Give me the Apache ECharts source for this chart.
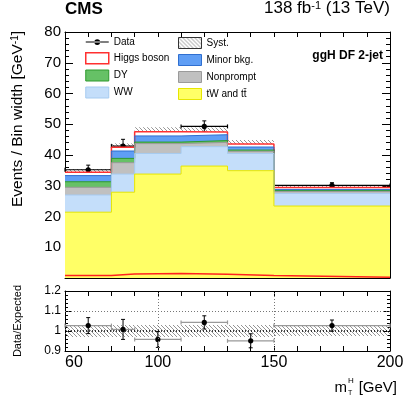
<!DOCTYPE html>
<html>
<head>
<meta charset="utf-8">
<script src="https://cdn.jsdelivr.net/npm/echarts@6/dist/echarts.min.js"></script>
<style>
html, body { margin: 0; padding: 0; background: #fff; }
#main { width: 407px; height: 395px; }
</style>
</head>
<body>
<div id="main"></div>
<script>
// bins in m_T^H [GeV]
var binLo = [60, 80, 90, 110, 130, 150];
var binHi = [80, 90, 110, 130, 150, 200];
var binMid = [70, 85, 100, 120, 140, 175];

// stacked expectation, events / GeV (bottom to top)
var ttbar = [21.4, 27.9, 33.8, 36.4, 34.9, 23.4];
var ww = [5.6, 5.9, 6.7, 6.3, 5.6, 4.1];
var nonprompt = [2.5, 3.7, 3.2, 1.4, 0.7, 0.6];
var dy = [1.8, 1.4, 0.5, 0.6, 0.4, 0.3];
var minorBkg = [2.0, 2.4, 2.0, 1.9, 1.0, 0.4];
var higgs = [1.1, 1.2, 1.4, 0.9, 1.0, 0.6];
// unstacked signal line at the bottom
var higgsAlone = [0.8, 1.3, 1.5, 1.2, 0.8, 0.25];
// relative syst. uncertainty
var systFrac = [0.03, 0.03, 0.03, 0.03, 0.03, 0.025];

var dataY = [35.2, 42.9, 45.6, 49.3, 41.3, 30.1];
var dataErr = [1.5, 2.2, 2.0, 1.8, 1.5, 0.9];
var ratioY = [1.027, 1.008, 0.958, 1.043, 0.951, 1.027];
var ratioErr = [0.04, 0.05, 0.04, 0.033, 0.035, 0.028];

var xTickLabels = [60, 100, 150, 200];

var FONT = 'Liberation Sans, Arial, Helvetica, sans-serif';

// hatch pattern for syst. band
var hc = document.createElement('canvas');
hc.width = 4; hc.height = 4;
var g = hc.getContext('2d');
g.strokeStyle = '#7a7a7a';
g.lineWidth = 0.8;
g.beginPath();
g.moveTo(-1, -1); g.lineTo(5, 5);
g.moveTo(-1, 3); g.lineTo(1, 5);
g.moveTo(3, -1); g.lineTo(5, 1);
g.stroke();
var hatch = { image: hc, repeat: 'repeat' };

// cumulative stack
var layers = [ttbar, ww, nonprompt, dy, minorBkg, higgs];
var cum = [];
var run = [0, 0, 0, 0, 0, 0];
for (var k = 0; k < layers.length; k++) {
	run = run.map(function (v, i) { return v + layers[k][i]; });
	cum.push(run.slice());
}
var total = cum[cum.length - 1];

function stepData(vals) {
	var d = [];
	for (var i = 0; i < vals.length; i++) d.push([binLo[i], vals[i]]);
	d.push([binHi[vals.length - 1], vals[vals.length - 1]]);
	return d;
}

function histLayer(name, vals, fill, edge, w) {
	return {
		name: name, type: 'line', step: 'end', symbol: 'none',
		xAxisIndex: 0, yAxisIndex: 0,
		data: stepData(vals),
		lineStyle: { color: edge, width: w || 1 },
		areaStyle: { color: fill, opacity: 1 },
		animation: false, silent: true
	};
}

var mainBand = binLo.map(function (lo, i) {
	return [lo, binHi[i], total[i] * (1 - systFrac[i]), total[i] * (1 + systFrac[i])];
});
var ratioBand = binLo.map(function (lo, i) {
	return [lo, binHi[i], 1 - systFrac[i], 1 + systFrac[i]];
});
var mainPts = binMid.map(function (m, i) { return [m, dataY[i], dataErr[i], binLo[i], binHi[i]]; });
var ratioPts = binMid.map(function (m, i) { return [m, ratioY[i], ratioErr[i], binLo[i], binHi[i]]; });

function bandItem(params, api) {
	var a = api.coord([api.value(0), api.value(3)]);
	var b = api.coord([api.value(1), api.value(2)]);
	return {
		type: 'rect',
		shape: { x: a[0], y: a[1], width: b[0] - a[0], height: b[1] - a[1] },
		style: { fill: hatch }
	};
}

function pointItem(hColor) {
	return function (params, api) {
		var x = api.value(0), y = api.value(1), e = api.value(2);
		var c = api.coord([x, y]);
		var lo = api.coord([api.value(3), y]);
		var hi = api.coord([api.value(4), y]);
		var top = api.coord([x, y + e]);
		var bot = api.coord([x, y - e]);
		var blk = { stroke: '#000', lineWidth: 1 };
		var hs = { stroke: hColor, lineWidth: 1.2 };
		return {
			type: 'group',
			children: [
				{ type: 'line', shape: { x1: lo[0], y1: c[1], x2: hi[0], y2: c[1] }, style: hs },
				{ type: 'line', shape: { x1: lo[0], y1: c[1] - 2, x2: lo[0], y2: c[1] + 2 }, style: hs },
				{ type: 'line', shape: { x1: hi[0], y1: c[1] - 2, x2: hi[0], y2: c[1] + 2 }, style: hs },
				{ type: 'line', shape: { x1: c[0], y1: top[1], x2: c[0], y2: bot[1] }, style: blk },
				{ type: 'line', shape: { x1: c[0] - 2, y1: top[1], x2: c[0] + 2, y2: top[1] }, style: blk },
				{ type: 'line', shape: { x1: c[0] - 2, y1: bot[1], x2: c[0] + 2, y2: bot[1] }, style: blk },
				{ type: 'circle', shape: { cx: c[0], cy: c[1], r: 2.6 }, style: { fill: '#000' } }
			]
		};
	};
}

function xAx(grid, pos, labels) {
	return {
		type: 'value', gridIndex: grid, position: pos, min: 60, max: 200, interval: 10,
		axisLine: { show: true, onZero: false, lineStyle: { color: '#000', width: 1 } },
		axisTick: { show: true, inside: true, length: 5, lineStyle: { color: '#000' } },
		splitLine: { show: false },
		axisLabel: labels ? {
			show: true, color: '#000', fontSize: 16, fontFamily: FONT, margin: 4,
			alignMinLabel: 'left',
			formatter: function (v) { return xTickLabels.indexOf(v) >= 0 ? String(v) : ''; }
		} : { show: false }
	};
}

function yAx(grid, pos, min, max, iv, labels, fs, tickLen) {
	return {
		type: 'value', gridIndex: grid, position: pos, min: min, max: max, interval: iv,
		axisLine: { show: true, onZero: false, lineStyle: { color: '#000', width: 1 } },
		axisTick: { show: true, inside: true, length: tickLen, lineStyle: { color: '#000' } },
		minorTick: { show: true, splitNumber: 5, length: tickLen / 2, lineStyle: { color: '#000' } },
		splitLine: { show: false },
		axisLabel: labels ? {
			show: true, color: '#000', fontSize: fs, fontFamily: FONT, margin: 4,
			formatter: function (v) {
				if (v === 0) return '';
				return String(parseFloat(v.toFixed(1)));
			}
		} : { show: false }
	};
}

var chart = echarts.init(document.getElementById('main'), null, { renderer: 'canvas' });

var dotted = function (col, w) { return { color: col, type: [1, 2], width: w }; };

var legendText = { fontSize: 10, color: '#000', fontFamily: FONT };

var option = {
	animation: false,
	textStyle: { fontFamily: FONT },
	grid: [
		{ left: 65, right: 17, top: 32, height: 246 },
		{ left: 65, right: 17, top: 291, height: 60 }
	],
	xAxis: [xAx(0, 'bottom', false), xAx(0, 'top', false), xAx(1, 'bottom', true), xAx(1, 'top', false)],
	yAxis: [
		yAx(0, 'left', 0, 80, 10, true, 15, 8),
		yAx(0, 'right', 0, 80, 10, false, 15, 8),
		yAx(1, 'left', 0.9, 1.2, 0.1, true, 12, 6),
		yAx(1, 'right', 0.9, 1.2, 0.1, false, 12, 6)
	],
	legend: [
		{
			left: 85, top: 37, padding: 0, orient: 'vertical', itemWidth: 23, itemHeight: 11, itemGap: 5,
			selectedMode: false, textStyle: legendText,
			data: [
				{ name: 'Data', icon: 'path://M0,5.5h24v1H0z M12,3a3,3 0 1,0 0.001,0z', itemStyle: { color: '#000' } },
				{ name: 'Higgs boson', icon: 'rect', itemStyle: { color: '#fff', borderColor: '#ff3030', borderWidth: 1.5 } },
				{ name: 'DY', icon: 'rect', itemStyle: { color: '#66c166', borderColor: '#2e9a2e', borderWidth: 1 } },
				{ name: 'WW', icon: 'rect', itemStyle: { color: '#c4defa', borderColor: '#a6cbf0', borderWidth: 1 } }
			]
		},
		{
			left: 178, top: 37, padding: 0, orient: 'vertical', itemWidth: 23, itemHeight: 11, itemGap: 5,
			selectedMode: false, textStyle: legendText,
			data: [
				{ name: 'Syst.', icon: 'rect', itemStyle: { color: hatch, borderColor: '#333', borderWidth: 1 } },
				{ name: 'Minor bkg.', icon: 'rect', itemStyle: { color: '#5f9ef5', borderColor: '#2f6fd0', borderWidth: 1 } },
				{ name: 'Nonprompt', icon: 'rect', itemStyle: { color: '#c0c0c0', borderColor: '#9a9a9a', borderWidth: 1 } },
				{ name: 'tW and t\u0074\u0304', icon: 'rect', itemStyle: { color: '#ffff66', borderColor: '#e6e600', borderWidth: 1 } }
			]
		}
	],
	graphic: [
		{ type: 'text', left: 65, top: 1, style: { text: 'CMS', font: 'bold 17px ' + FONT, fill: '#000' } },
		{
			type: 'text', right: 17, top: 0,
			style: {
				text: '138 fb{sup|-1} (13 TeV)', font: '17px ' + FONT, fill: '#000',
				rich: { sup: { fontSize: 11, verticalAlign: 'top', fontFamily: FONT } }
			}
		},
		{ type: 'text', right: 24, top: 50, style: { text: 'ggH DF 2-jet', font: 'bold 12px ' + FONT, fill: '#000' } },
		{
			type: 'text', x: 18, y: 31, rotation: Math.PI / 2,
			style: {
				text: 'Events / Bin width [GeV{sup|-1}]', font: '15.5px ' + FONT, fill: '#000',
				align: 'right', verticalAlign: 'middle', textAlign: 'right', textVerticalAlign: 'middle',
				rich: { sup: { fontSize: 10, verticalAlign: 'top', fontFamily: FONT } }
			}
		},
		{
			type: 'text', x: 18, y: 321, rotation: Math.PI / 2,
			style: {
				text: 'Data/Expected', font: '11px ' + FONT, fill: '#000',
				align: 'center', verticalAlign: 'middle', textAlign: 'center', textVerticalAlign: 'middle'
			}
		},
		{ type: 'text', x: 397, y: 388, style: { text: '[GeV]', font: '15px ' + FONT, fill: '#000', align: 'right', verticalAlign: 'middle', textAlign: 'right', textVerticalAlign: 'middle' } },
		{ type: 'text', x: 347, y: 388, style: { text: 'm', font: '15px ' + FONT, fill: '#000', align: 'right', verticalAlign: 'middle', textAlign: 'right', textVerticalAlign: 'middle' } },
		{ type: 'text', x: 348, y: 381, style: { text: 'H', font: '8px ' + FONT, fill: '#000', align: 'left', verticalAlign: 'middle', textAlign: 'left', textVerticalAlign: 'middle' } },
		{ type: 'text', x: 348, y: 393, style: { text: 'T', font: '7px ' + FONT, fill: '#000', align: 'left', verticalAlign: 'middle', textAlign: 'left', textVerticalAlign: 'middle' } }
	],
	series: [
		histLayer('Higgs boson', cum[5], '#ffffff', '#ff3030', 1.5),
		histLayer('Minor bkg.', cum[4], '#5f9ef5', '#2f6fd0'),
		histLayer('DY', cum[3], '#66c166', '#2e9a2e'),
		histLayer('Nonprompt', cum[2], '#c0c0c0', '#9a9a9a'),
		histLayer('WW', cum[1], '#c4defa', '#a6cbf0'),
		histLayer('tW and t\u0074\u0304', cum[0], '#ffff66', '#e6e600'),
		{
			name: 'Higgs boson', type: 'line', step: 'end', symbol: 'none',
			xAxisIndex: 0, yAxisIndex: 0, data: stepData(higgsAlone),
			lineStyle: { color: '#ff2020', width: 1.5 }, silent: true
		},
		{
			name: 'Syst.', type: 'custom', xAxisIndex: 0, yAxisIndex: 0,
			data: mainBand, renderItem: bandItem, silent: true, itemStyle: { color: '#888' }
		},
		{
			name: 'Data', type: 'custom', xAxisIndex: 0, yAxisIndex: 0,
			data: mainPts, renderItem: pointItem('#000'), silent: true, itemStyle: { color: '#000' }
		},
		{
			name: 'SystRatio', type: 'custom', xAxisIndex: 2, yAxisIndex: 2,
			data: ratioBand, renderItem: bandItem, silent: true,
			markLine: {
				silent: true, symbol: 'none', label: { show: false },
				data: [
					{ yAxis: 1, lineStyle: dotted('#000', 1.6) },
					{ yAxis: 1.1, lineStyle: dotted('#777', 1) },
					{ xAxis: 100, lineStyle: dotted('#777', 1) },
					{ xAxis: 150, lineStyle: dotted('#777', 1) }
				]
			}
		},
		{
			name: 'DataRatio', type: 'custom', xAxisIndex: 2, yAxisIndex: 2,
			data: ratioPts, renderItem: pointItem('#999'), silent: true
		}
	]
};

chart.setOption(option);
</script>
</body>
</html>
